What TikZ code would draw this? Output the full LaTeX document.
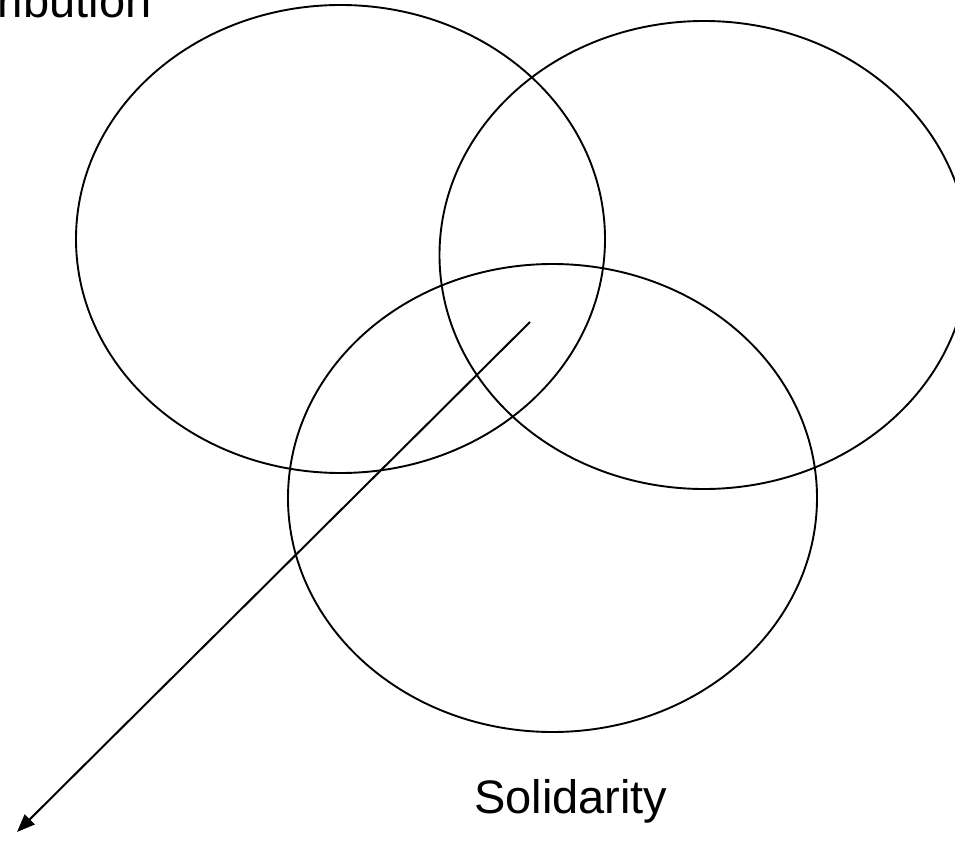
\documentclass[tikz,border=0pt]{standalone}
\usepackage{fontspec}
\setmainfont{Liberation Sans}
\usetikzlibrary{arrows.meta}

\begin{document}
\begin{tikzpicture}[x=1pt, y=-1pt, >={Triangle[length=18pt,width=14pt]},
		ring/.style={line width=1.9pt},
		label/.style={inner sep=0pt, anchor=base west, font=\fontsize{47}{56}\selectfont}]
		\useasboundingbox (0,0) rectangle (955,845);
		\clip (0,0) rectangle (955,845);
		
		\draw[ring] (340.5,239) ellipse (264.5 and 234);
		\draw[ring] (704,255) ellipse (264.5 and 234);
		\draw[ring] (552.5,498) ellipse (264.5 and 234);
		
		\coordinate (core) at (530,322);
		\coordinate (tip) at (17,832);
		\draw[->, line width=2pt] (core) -- (tip);
		
		\node[label] (distr) at (-3,18) {ribution};
		\node[label] (solid) at (474,813) {Solidarity};
	\end{tikzpicture}
\end{document}
